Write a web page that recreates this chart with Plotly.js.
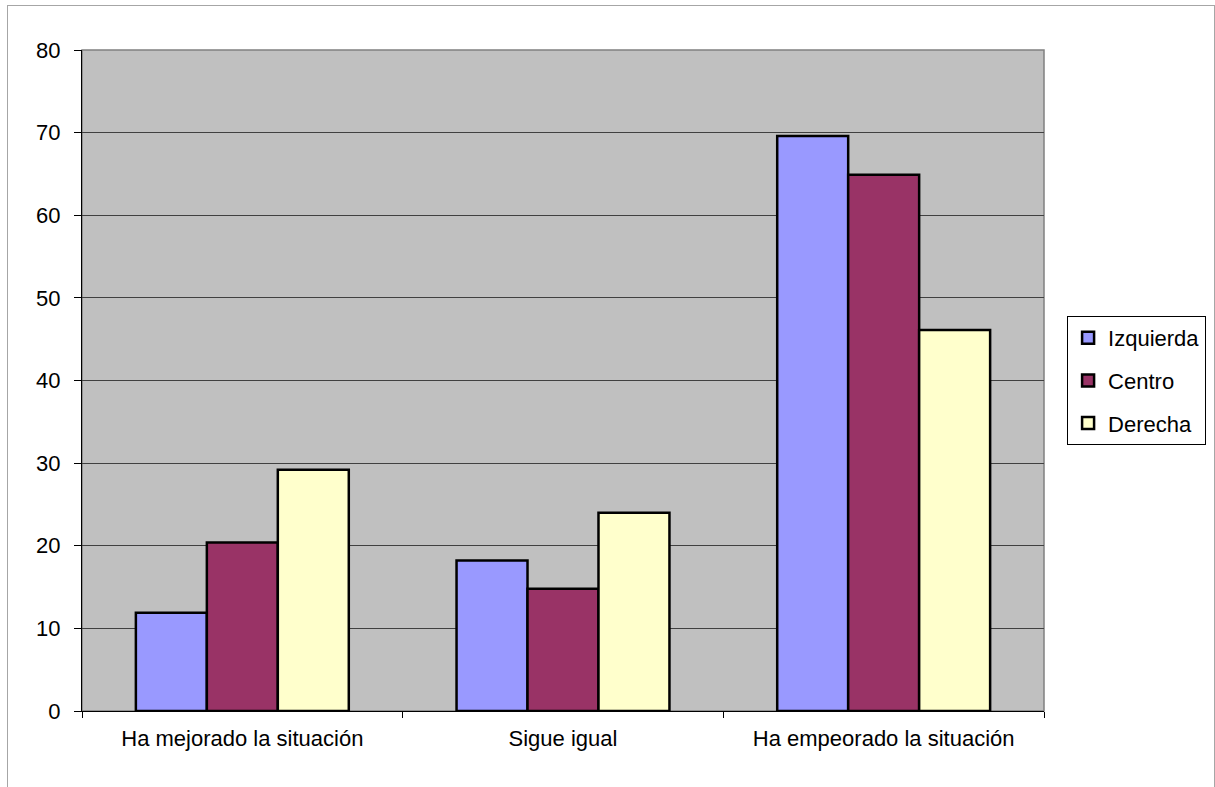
<!DOCTYPE html>
<html>
<head>
<meta charset="utf-8">
<script src="https://cdn.plot.ly/plotly-3.0.1.min.js"></script>
<style>
  html, body { margin: 0; padding: 0; background: #ffffff; }
  #frame { position: absolute; left: 7px; top: 5px; width: 1208px; height: 800px; border: 1px solid #a6a6a6; box-sizing: border-box; }
  #chart { position: absolute; left: 0; top: 0; width: 1215px; height: 787px; }
</style>
</head>
<body>
<div id="frame"></div>
<div id="chart"></div>
<script>
const categories = ["Ha mejorado la situación", "Sigue igual", "Ha empeorado la situación"];
const seriesNames = ["Izquierda", "Centro", "Derecha"];
const izquierda = [11.9, 18.2, 69.6];
const centro = [20.4, 14.8, 64.9];
const derecha = [29.2, 24.0, 46.1];
const yTicks = [0, 10, 20, 30, 40, 50, 60, 70, 80];

const colors = ["#9999FF", "#993366", "#FFFFCC"];
const values = [izquierda, centro, derecha];

const traces = seriesNames.map((name, i) => ({
  type: "bar",
  name: name,
  legendgroup: "g" + i,
  x: categories,
  y: values[i],
  marker: { color: colors[i], line: { color: "#000000", width: 2.5 } },
  hoverinfo: "x+y+name"
}));

const layout = {
  width: 1215,
  height: 787,
  margin: { l: 82, r: 171, t: 50, b: 76, pad: 0, autoexpand: false },
  paper_bgcolor: "rgba(0,0,0,0)",
  plot_bgcolor: "#C0C0C0",
  font: { family: "Liberation Sans, Arial, sans-serif", size: 22, color: "#000000" },
  barmode: "group",
  bargap: 0.336,
  bargroupgap: 0,
  showlegend: true,
  legend: {
    x: 1.024, xanchor: "left",
    y: 0.5, yanchor: "middle",
    bgcolor: "#ffffff",
    bordercolor: "#000000",
    borderwidth: 1,
    font: { size: 22, family: "Liberation Sans, Arial, sans-serif" },
    itemwidth: 30,
    tracegroupgap: 11
  },
  xaxis: {
    type: "category",
    tickson: "boundaries",
    ticks: "outside",
    ticklen: 6,
    tickcolor: "#000000",
    showline: true,
    linecolor: "#000000",
    linewidth: 1,
    showgrid: false,
    ticklabelstandoff: 8,
    fixedrange: true
  },
  yaxis: {
    range: [0, 80],
    tickvals: yTicks,
    ticktext: yTicks.map(String),
    ticks: "outside",
    ticklen: 7,
    tickcolor: "#000000",
    showline: true,
    linecolor: "#000000",
    linewidth: 1,
    showgrid: true,
    gridcolor: "#404040",
    gridwidth: 1,
    zeroline: false,
    ticklabelstandoff: 9,
    fixedrange: true
  },
  shapes: [{
    type: "rect", xref: "paper", yref: "paper",
    x0: 0, x1: 1, y0: 0, y1: 1,
    line: { color: "#808080", width: 1.5 },
    layer: "below"
  }]
};

Plotly.newPlot("chart", traces, layout, { displayModeBar: false });
</script>
</body>
</html>
